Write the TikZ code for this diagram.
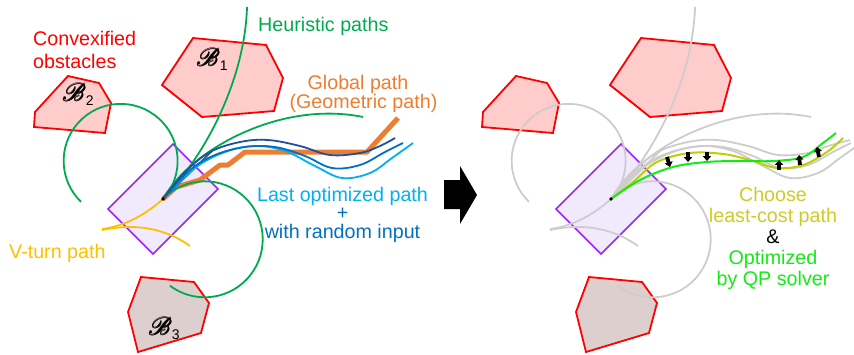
\documentclass[tikz,border=0pt]{standalone}
\usepackage{fontspec}
\setmainfont{Liberation Sans}
\usepackage{mathrsfs}
\usetikzlibrary{arrows.meta}
\definecolor{obsred}{RGB}{255,0,0}
\definecolor{obspink}{RGB}{255,204,204}
\definecolor{obsbrown}{RGB}{222,207,207}
\definecolor{carpurple}{RGB}{153,40,245}
\definecolor{carfill}{RGB}{241,233,252}
\definecolor{heurgreen}{RGB}{0,170,80}
\definecolor{globorange}{RGB}{237,125,49}
\definecolor{lblue}{RGB}{0,176,240}
\definecolor{dblue}{RGB}{0,112,192}
\definecolor{nblue}{RGB}{31,80,160}
\definecolor{slate}{RGB}{68,84,106}
\definecolor{vyellow}{RGB}{255,192,0}
\definecolor{lgray}{RGB}{205,205,205}
\definecolor{ygreen}{RGB}{190,208,0}
\definecolor{ytext}{RGB}{204,204,40}
\definecolor{optgreen}{RGB}{20,235,20}
\newcommand{\boldscrB}{\scalebox{1.2}{\rlap{$\mathscr{B}$}\rlap{\hspace{0.35pt}$\mathscr{B}$}\raisebox{0.3pt}{$\mathscr{B}$}}}
\newcommand{\obslabel}[1]{\boldscrB\raisebox{-4.5pt}{\fontsize{14}{14}\selectfont #1}}
\begin{document}
\begin{tikzpicture}[x=1pt,y=-1pt,
  lbl/.style={inner sep=0pt, font=\fontsize{19.7}{22}\selectfont},
  obs/.style={draw=obsred, line width=1.8pt, fill=obspink},
  obsb/.style={draw=obsred, line width=1.8pt, fill=obsbrown},
  car/.style={draw=carpurple, line width=1.6pt, fill=carfill},
  crv/.style={line width=1.8pt},
  blk/.style={line width=3.8pt, -{Triangle[width=8pt,length=4.8pt]}}]
\useasboundingbox (0,0) rectangle (854,354);

% ---------------- left panel ----------------
\draw[obs] (193,38) -- (266,45) -- (283,78) -- (274,111) -- (202,117) -- (162,85) -- cycle;
\draw[obs] (68,76) -- (99,83) -- (111,103) -- (105,133) -- (34,127) -- (35,112) -- cycle;
\draw[obsb] (141,277) -- (194,282) -- (209,303) -- (201,333) -- (138,352) -- (128,312) -- cycle;
\draw[car] (173,144) -- (218,189) -- (153,254) -- (108,209) -- cycle;
\coordinate (st) at (163,199);

\node[lbl, anchor=base west] (b1) at (196,66) {\obslabel{1}};
\node[lbl, anchor=base west] (b2) at (62,101) {\obslabel{2}};
\node[lbl, anchor=base west] (b3) at (148,335) {\obslabel{3}};

% global path
\draw[globorange, line width=5pt, line join=round] (st) -- (176,187) -- (200,180) -- (220,165) -- (228,165) -- (245,152) -- (367,152) -- (398,118);
% V-turn
\draw[vyellow, crv] (st) .. controls (145,215) and (125,226) .. (102,229);
\draw[vyellow, crv] (102,230) .. controls (135,223) and (165,228) .. (190,246);
% heuristic paths
\draw[heurgreen, crv] (st) arc[start angle=42, end angle=-226, radius=57];
\draw[heurgreen, crv] (st) arc[start angle=-136, end angle=127, radius=58];
\draw[heurgreen, crv] (st) .. controls (210,150) and (245,75) .. (247,7);
\draw[heurgreen, crv] (st) .. controls (190,150) and (280,100) .. (363,117);
\draw[slate, crv] (st) -- (212,151);
% random paths
\draw[lblue, crv] plot[smooth, tension=0.6] coordinates {(163,199) (195,168) (225,152) (255,146) (285,151) (315,166) (342,178) (370,173) (392,158) (413,143)};
\draw[dblue, crv] plot[smooth, tension=0.6] coordinates {(163,199) (190,170) (215,155) (245,147) (275,147) (305,156) (332,168) (360,165) (385,152) (403,143)};
\draw[nblue, crv] plot[smooth, tension=0.6] coordinates {(163,199) (185,172) (210,152) (240,142) (268,140) (300,146) (330,155) (360,153) (380,146) (395,138)};
\fill (st) circle[radius=1.8];

\node[lbl, text=obsred, anchor=base west] (conv1) at (33,45.7) {Convexified};
\node[lbl, text=obsred, anchor=base west] (conv2) at (33,68.3) {obstacles};
\node[lbl, text=heurgreen, anchor=base west] (heur) at (258,31.7) {Heuristic paths};
\node[lbl, text=globorange, anchor=base] (glob1) at (358,89.3) {Global path};
\node[lbl, text=globorange, anchor=base] (glob2) at (363.5,108.3) {(Geometric path)};
\node[lbl, text=lblue, anchor=base] (last1) at (342.5,201) {Last optimized path};
\node[lbl, text=dblue, anchor=base] (last2) at (342.5,219.5) {+};
\node[lbl, text=dblue, anchor=base] (last3) at (342.5,238.3) {with random input};
\node[lbl, text=vyellow, anchor=base west] (vturn) at (9,258.7) {V-turn path};

% ---------------- arrow ----------------
\fill (444,180) -- (460,180) -- (460,166) -- (477,195) -- (460,224) -- (460,209) -- (444,209) -- cycle;

% ---------------- right panel ----------------
\begin{scope}[xshift=448pt]
\draw[obs] (193,38) -- (266,45) -- (283,78) -- (274,111) -- (202,117) -- (162,85) -- cycle;
\draw[obs] (68,76) -- (99,83) -- (111,103) -- (105,133) -- (34,127) -- (35,112) -- cycle;
\draw[obsb] (141,277) -- (194,282) -- (209,303) -- (201,333) -- (138,352) -- (128,312) -- cycle;
\draw[car] (173,144) -- (218,189) -- (153,254) -- (108,209) -- cycle;
\coordinate (st2) at (163,199);
\draw[lgray, crv] (st2) .. controls (145,215) and (125,226) .. (102,229);
\draw[lgray, crv] (102,230) .. controls (135,223) and (165,228) .. (190,246);
\draw[lgray, crv] (st2) arc[start angle=42, end angle=-226, radius=57];
\draw[lgray, crv] (st2) arc[start angle=-136, end angle=127, radius=58];
\draw[lgray, crv] (st2) .. controls (210,150) and (245,75) .. (247,7);
\draw[lgray, crv] (st2) .. controls (190,150) and (280,100) .. (363,117);
\draw[lgray, crv] (st2) -- (212,151);
\draw[lgray, crv] plot[smooth, tension=0.6] coordinates {(163,199) (195,168) (225,152) (255,146) (285,151) (315,166) (342,178) (370,173) (392,158) (413,143)};
\draw[lgray, crv] plot[smooth, tension=0.6] coordinates {(163,199) (190,170) (215,155) (245,147) (275,147) (305,156) (332,168) (360,165) (385,152) (403,143)};
\draw[lgray, crv] plot[smooth, tension=0.6] coordinates {(163,199) (185,172) (210,152) (240,142) (268,140) (300,146) (330,155) (360,153) (380,146) (402,140)};
\end{scope}
\coordinate (st3) at (611,199);
\draw[ygreen, line width=2pt] plot[smooth, tension=0.6] coordinates {(611,199) (633,182) (657,162) (690,153) (723,154) (750,160) (777,168) (803,165) (827,152) (843,138)};
\draw[optgreen, line width=2pt] plot[smooth, tension=0.6] coordinates {(611,199) (640,180) (673,167) (707,162) (740,161) (773,161) (803,157) (823,143) (836,133)};
\fill (st3) circle[radius=1.8];
\draw[blk] (667,157) -- (670,167);
\draw[blk] (688,152) -- (688,162);
\draw[blk] (707,152) -- (707,161);
\draw[blk] (779,170) -- (779,160);
\draw[blk] (800,165) -- (799,155);
\draw[blk] (819,157) -- (817,147);

\node[lbl, text=ytext, anchor=base] (ch1) at (773,201.7) {Choose};
\node[lbl, text=ytext, anchor=base] (ch2) at (773,222.5) {least-cost path};
\node[lbl, anchor=base] (amp) at (773,243.5) {\&};
\node[lbl, text=optgreen, anchor=base] (opt1) at (773,264.5) {Optimized};
\node[lbl, text=optgreen, anchor=base] (opt2) at (773,285.5) {by QP solver};
\end{tikzpicture}
\end{document}
